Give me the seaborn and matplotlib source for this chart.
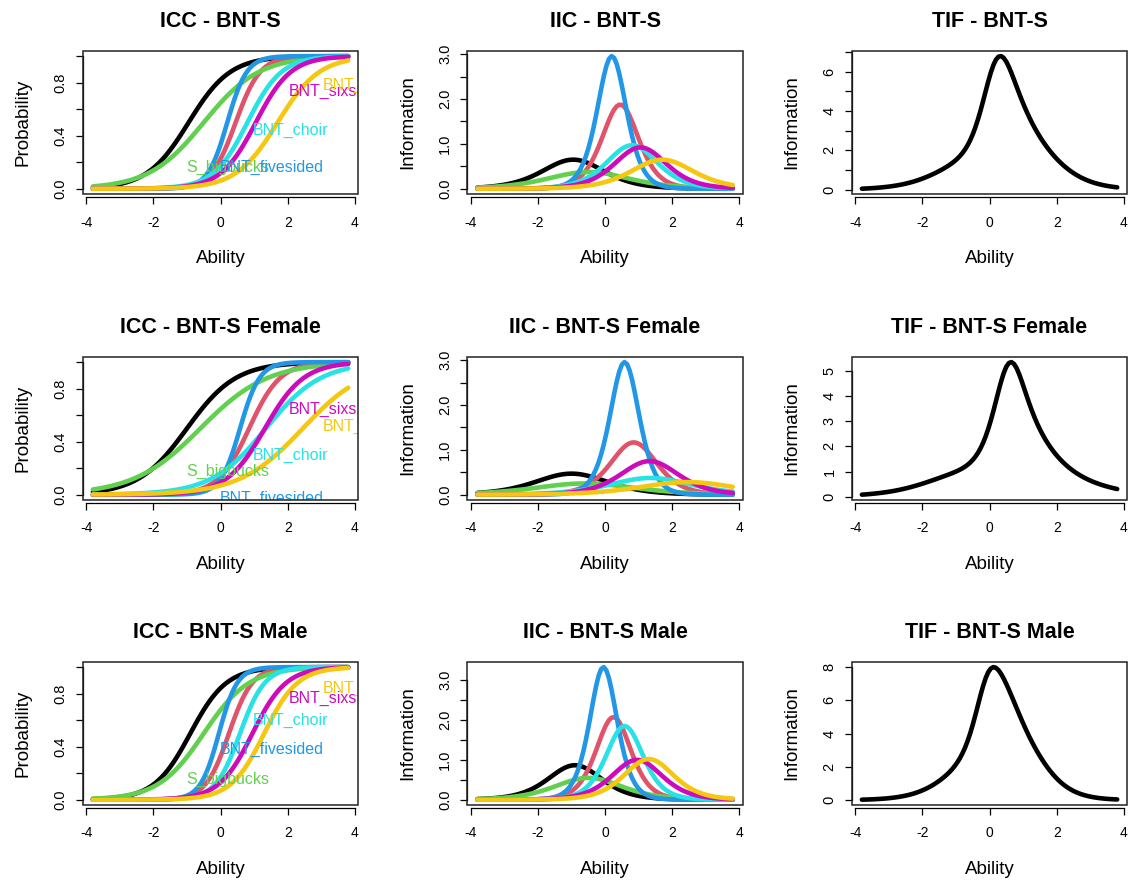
import numpy as np
import pandas as pd
import matplotlib
matplotlib.use("Agg")
import matplotlib.pyplot as plt
import seaborn as sns
from matplotlib.patches import Rectangle

# ---------------- data (2PL item parameters) ----------------
items = ["item_1", "item_2", "S_bigbucks", "BNT_fivesided", "BNT_choir", "BNT_sixs", "BNT_"]
groups = ["BNT-S", "BNT-S Female", "BNT-S Male"]

disc_all = [1.61, 2.74, 1.22, 3.44, 1.97, 1.92, 1.61]
diff_all = [-0.95, 0.45, -0.50, 0.20, 0.80, 1.05, 1.70]

disc_female = [1.37, 2.16, 1.00, 3.44, 1.22, 1.73, 1.06]
diff_female = [-1.00, 0.85, -0.60, 0.58, 1.35, 1.32, 2.45]

disc_male = [1.86, 2.88, 1.48, 3.65, 2.72, 2.00, 2.02]
diff_male = [-0.90, 0.25, -0.50, -0.05, 0.58, 0.95, 1.30]

# item labels drawn on the ICC panels (items 3..7)
label_items = ["S_bigbucks", "BNT_fivesided", "BNT_choir", "BNT_sixs", "BNT_"]
label_x = [-1.03, -0.03, 0.97, 2.04, 3.04]
label_y_all = [0.163, 0.158, 0.437, 0.737, 0.780]
label_y_female = [0.176, -0.025, 0.295, 0.643, 0.517]
label_y_male = [0.156, 0.377, 0.594, 0.762, 0.837]

theta = np.linspace(-3.8, 3.8, 100)

params = {
    "BNT-S": (disc_all, diff_all, label_y_all),
    "BNT-S Female": (disc_female, diff_female, label_y_female),
    "BNT-S Male": (disc_male, diff_male, label_y_male),
}

palette = ["#000000", "#DF536B", "#61D04F", "#2297E6", "#28E2E5", "#CD0BBC", "#F5C710"]
label_colors = palette[2:]

# ---------------- style ----------------
sns.set_style("white")
plt.rcParams["font.family"] = ["Liberation Sans", "DejaVu Sans"]
plt.rcParams["text.color"] = "black"
plt.rcParams["axes.labelcolor"] = "black"
plt.rcParams["xtick.color"] = "black"
plt.rcParams["ytick.color"] = "black"

fig = plt.figure(figsize=(11.3, 8.81), dpi=100)
col_left = [0.0732, 0.4135, 0.7537]
row_bottom = [0.7798, 0.4325, 0.0863]
pw, ph = 0.2440, 0.1625

TITLE_FS = 15.5
LAB_FS = 13.5
TICK_FS = 10.5
ANN_FS = 11.5
LW = 3.3


def build_frames(a_list, b_list):
    rows = []
    for name, a, b in zip(items, a_list, b_list):
        p = 1.0 / (1.0 + np.exp(-a * (theta - b)))
        info = a ** 2 * p * (1 - p)
        for t, pv, iv in zip(theta, p, info):
            rows.append((name, t, pv, iv))
    df = pd.DataFrame(rows, columns=["Item", "Ability", "Probability", "Information"])
    tif = df.groupby("Ability", as_index=False)["Information"].sum()
    return df, tif


def tick_set(top, step, every):
    ticks = np.arange(0, top + 1e-9, step)
    labs = []
    for i, t in enumerate(ticks):
        if i % every == 0:
            labs.append(f"{t:.1f}" if step < 1 else f"{int(round(t))}")
        else:
            labs.append("")
    return ticks, labs


def style_axes(ax, ymin, ymax, step, every, ylab):
    pad = 0.04 * (ymax - ymin)
    lo, hi = ymin - pad, ymax + pad
    ax.set_ylim(lo, hi)
    yticks, ylabels = tick_set(hi, step, every)
    xpad = 0.04 * (theta.max() - theta.min())
    ax.set_xlim(theta.min() - xpad, theta.max() + xpad)
    ax.set_xticks([-4, -2, 0, 2, 4])
    ax.set_xticklabels(["-4", "-2", "0", "2", "4"], fontsize=TICK_FS)
    ax.set_yticks(yticks)
    ax.set_yticklabels(ylabels, fontsize=TICK_FS, rotation=90, va="center")
    ax.set_xlabel("Ability", fontsize=LAB_FS, labelpad=15)
    ax.set_ylabel(ylab, fontsize=LAB_FS, labelpad=16)
    for s in ["top", "right"]:
        ax.spines[s].set_visible(False)
    ax.spines["bottom"].set_position(("outward", 2.5))
    ax.spines["bottom"].set_bounds(-4, 4)
    ax.spines["left"].set_bounds(yticks[0], yticks[-1])
    for s in ["bottom", "left"]:
        ax.spines[s].set_color("black")
        ax.spines[s].set_linewidth(0.9)
    ax.tick_params(axis="both", direction="out", length=5, width=0.9, color="black",
                   left=True, bottom=True)
    ax.tick_params(axis="x", pad=8)
    ax.tick_params(axis="y", pad=6)
    ax.add_patch(Rectangle((0, 0), 1, 1, transform=ax.transAxes, fill=False,
                           edgecolor="#222222", lw=1.1, clip_on=False, zorder=5))
    ax.grid(False)


tif_ticks = {"BNT-S": (1, 2), "BNT-S Female": (1, 1), "BNT-S Male": (2, 1)}

for r, g in enumerate(groups):
    a_list, b_list, ly = params[g]
    df, tif = build_frames(a_list, b_list)

    # ICC
    ax = fig.add_axes([col_left[0], row_bottom[r], pw, ph])
    sns.lineplot(data=df, x="Ability", y="Probability", hue="Item", hue_order=items,
                 palette=palette, lw=LW, legend=False, ax=ax, sort=False)
    for txt, x, y, c in zip(label_items, label_x, ly, label_colors):
        ax.text(x, y, txt, color=c, fontsize=ANN_FS, ha="left", va="center",
                clip_on=True, zorder=4)
    style_axes(ax, df["Probability"].min(), df["Probability"].max(), 0.2, 2, "Probability")
    ax.set_title(f"ICC - {g}", fontsize=TITLE_FS, fontweight="bold", pad=17)

    # IIC
    ax = fig.add_axes([col_left[1], row_bottom[r], pw, ph])
    sns.lineplot(data=df, x="Ability", y="Information", hue="Item", hue_order=items,
                 palette=palette, lw=LW, legend=False, ax=ax, sort=False)
    style_axes(ax, df["Information"].min(), df["Information"].max(), 0.5, 2, "Information")
    ax.set_title(f"IIC - {g}", fontsize=TITLE_FS, fontweight="bold", pad=17)

    # TIF
    ax = fig.add_axes([col_left[2], row_bottom[r], pw, ph])
    sns.lineplot(data=tif, x="Ability", y="Information", color="black", lw=LW,
                 ax=ax, sort=False)
    step, every = tif_ticks[g]
    style_axes(ax, tif["Information"].min(), tif["Information"].max(), step, every,
               "Information")
    ax.set_title(f"TIF - {g}", fontsize=TITLE_FS, fontweight="bold", pad=17)

fig.savefig("out.png", dpi=100, facecolor="white")
